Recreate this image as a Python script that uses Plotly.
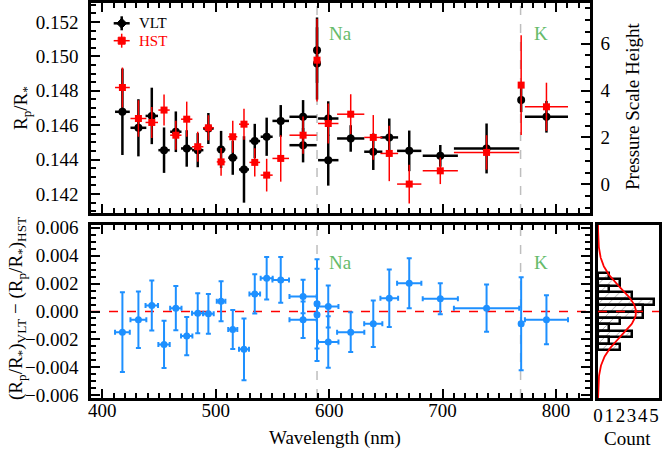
import numpy as np
import plotly.graph_objects as go

# ---------------- data ----------------
# VLT (black) : wavelength centre, half bin width, Rp/R*, error
vlt_wl = [417.7, 431.8, 443.6, 454.4, 464.8, 474.4, 484.1, 493.5, 504.7, 515.0, 524.9, 534.4, 544.9, 557.3,
          577.0, 577.0, 589.3, 589.3, 599.2, 599.2, 619.0, 638.9, 653.0, 670.6, 698.0, 738.8, 769.3, 791.6]
vlt_hw = [6.5, 7.0, 5.5, 5.0, 5.0, 5.0, 5.0, 4.7, 3.8, 4.0, 4.4, 4.7, 5.3, 7.3,
          12.0, 12.0, 1.5, 1.5, 9.0, 9.0, 12.0, 8.0, 7.8, 10.7, 15.5, 28.8, 1.5, 19.0]
vlt_rp = [0.14678, 0.14585, 0.14654, 0.14455, 0.14562, 0.14465, 0.14455, 0.14581, 0.14459, 0.14411, 0.14343,
          0.14508, 0.14533, 0.14625, 0.14649, 0.14484, 0.15036, 0.14959, 0.14639, 0.14397, 0.14523, 0.14446,
          0.14529, 0.14451, 0.14422, 0.14465, 0.14746, 0.14649]
vlt_err = [0.00251, 0.00166, 0.00164, 0.00132, 0.00118, 0.00106, 0.00099, 0.00090, 0.00108, 0.00099, 0.00193,
           0.00100, 0.00111, 0.00092, 0.00097, 0.00100, 0.00190, 0.00210, 0.00100, 0.00148, 0.00077, 0.00106,
           0.00110, 0.00118, 0.00063, 0.00145, 0.00070, 0.00092]

# HST (red)
hst_wl = [417.7, 431.8, 443.6, 454.4, 464.8, 474.4, 484.1, 493.5, 504.7, 515.0, 524.9, 534.4, 544.9, 557.3,
          577.0, 589.3, 599.2, 619.0, 638.9, 653.0, 670.6, 698.0, 738.8, 769.3, 791.6]
hst_hw = [6.5, 7.0, 5.5, 5.0, 5.0, 5.0, 5.0, 4.7, 3.8, 4.0, 4.4, 4.7, 5.3, 7.3,
          12.0, 1.5, 9.0, 12.0, 8.0, 7.8, 10.7, 15.5, 28.8, 1.5, 19.0]
hst_rp = [0.14819, 0.14639, 0.14616, 0.14688, 0.14542, 0.14635, 0.14475, 0.14585, 0.14387, 0.14533, 0.14606,
          0.14384, 0.14310, 0.14407, 0.14542, 0.14978, 0.14610, 0.14664, 0.14529, 0.14436, 0.14258, 0.14335,
          0.14442, 0.14833, 0.14707]
hst_err = [0.00116, 0.00106, 0.00090, 0.00090, 0.00084, 0.00102, 0.00087, 0.00073, 0.00081, 0.00093, 0.00090,
           0.00082, 0.00095, 0.00135, 0.00108, 0.00240, 0.00116, 0.00116, 0.00130, 0.00161, 0.00113, 0.00077,
           0.00100, 0.00290, 0.00140]

# Difference VLT - HST (blue), same bins as VLT
diff = [-0.00148, -0.00059, 0.00043, -0.00236, 0.00024, -0.00176, -0.00012, -0.00017, 0.00074, -0.00129,
        -0.00271, 0.00126, 0.00238, 0.00226, 0.00107, -0.00059, 0.00055, -0.00024, 0.00036, -0.00219,
        -0.00148, -0.00088, 0.00095, 0.00202, 0.00091, 0.00024, -0.00088, -0.00059]
diff_err = [0.00286, 0.00202, 0.00179, 0.00169, 0.00159, 0.00137, 0.00143, 0.00143, 0.00143, 0.00139,
            0.00221, 0.00141, 0.00152, 0.00164, 0.00120, 0.00131, 0.00320, 0.00330, 0.00150, 0.00185,
            0.00143, 0.00167, 0.00206, 0.00179, 0.00111, 0.00169, 0.00333, 0.00176]

# Histogram of differences
hist_centers = [0.00253, 0.00207, 0.00161, 0.00115, 0.00069, 0.00023,
                -0.00023, -0.00069, -0.00115, -0.00161, -0.00207, -0.00253]
hist_counts = [1, 2, 1, 3, 5, 4, 4, 2, 1, 3, 1, 2]
hist_binwidth = 0.00046
gauss_amp, gauss_mean, gauss_sigma = 3.4, -0.00005, 0.0017

# Lines
line_wl = [589.3, 768.8]
line_names = ["Na", "K"]
line_label_wl = [610.4, 787.2]

# Pressure scale height conversion (Rp/R* at H=0, Rp/R* per scale height)
h0_rp, h_scale = 0.14256, 0.001364

# ---------------- layout constants ----------------
W, H = 665, 449
FONT = "Liberation Serif, Times New Roman, serif"
GREEN = "rgb(102,187,106)"
BLUE = "rgb(30,144,255)"
RED = "rgb(255,0,0)"


def fx(p):
    return p / W


def fy(p):
    return 1 - p / H


x_dom = [fx(91), fx(590)]
top_dom = [fy(213), fy(3)]
bot_dom = [fy(398), fy(225)]
hist_xdom = [fx(598), fx(659)]

xr = [390, 830]
top_r = [0.1409, 0.1531]
bot_r = [-0.0062, 0.0062]
h_r = [(top_r[0] - h0_rp) / h_scale, (top_r[1] - h0_rp) / h_scale]

fig = go.Figure()

# VLT
fig.add_trace(go.Scatter(
    x=vlt_wl, y=vlt_rp, mode="markers", xaxis="x", yaxis="y",
    marker=dict(symbol="circle", size=8, color="black"),
    error_y=dict(type="data", array=vlt_err, color="black", thickness=2.5, width=0),
    error_x=dict(type="data", array=vlt_hw, color="black", thickness=2.5, width=0),
))
# HST
fig.add_trace(go.Scatter(
    x=hst_wl, y=hst_rp, mode="markers", xaxis="x", yaxis="y",
    marker=dict(symbol="square", size=7, color=RED),
    error_y=dict(type="data", array=hst_err, color=RED, thickness=1.5, width=0),
    error_x=dict(type="data", array=hst_hw, color=RED, thickness=1.5, width=0),
))
# dummy trace for the right axis
fig.add_trace(go.Scatter(x=[None], y=[None], xaxis="x", yaxis="y2", showlegend=False))

# Differences
fig.add_trace(go.Scatter(
    x=vlt_wl, y=diff, mode="markers", xaxis="x2", yaxis="y3",
    marker=dict(symbol="circle", size=7, color=BLUE),
    error_y=dict(type="data", array=diff_err, color=BLUE, thickness=2, width=2.5),
    error_x=dict(type="data", array=vlt_hw, color=BLUE, thickness=2, width=2.5),
))

# Histogram
fig.add_trace(go.Bar(
    y=hist_centers, x=hist_counts, orientation="h", width=hist_binwidth,
    xaxis="x3", yaxis="y4",
    marker=dict(color="white", line=dict(color="black", width=2.5),
                pattern=dict(shape="/", fgcolor="rgb(160,160,160)", bgcolor="white",
                             size=7, solidity=0.12, fillmode="replace")),
))
gy = np.linspace(bot_r[0], bot_r[1], 200)
gx = gauss_amp * np.exp(-0.5 * ((gy - gauss_mean) / gauss_sigma) ** 2)
fig.add_trace(go.Scatter(x=gx, y=gy, mode="lines", xaxis="x3", yaxis="y4",
                         line=dict(color=RED, width=1.8)))

tickfont = dict(family=FONT, size=19, color="black")
axis_common = dict(showgrid=False, zeroline=False, showline=True, linecolor="black", linewidth=2.5,
                   ticks="inside", tickcolor="black", tickwidth=2, ticklen=9, tickfont=tickfont,
                   automargin=False, tickangle=0)
minor_common = dict(ticks="inside", ticklen=5, tickwidth=2, tickcolor="black", showgrid=False)

fig.update_layout(
    template="none",
    width=W, height=H, margin=dict(l=0, r=0, t=0, b=0, pad=0), autosize=False,
    paper_bgcolor="white", plot_bgcolor="white", showlegend=False, bargap=0,
    xaxis=dict(domain=x_dom, anchor="y", range=xr, showticklabels=False, mirror="ticks",
               tickvals=[400, 500, 600, 700, 800],
               minor=dict(dtick=10, tick0=400, **minor_common),
               **axis_common),
    yaxis=dict(domain=top_dom, anchor="x", range=top_r, tick0=0.142, dtick=0.002, tickformat=".3f",
               mirror=True, ticklabelstandoff=6,
               minor=dict(dtick=0.0005, **minor_common),
               **axis_common),
    yaxis2=dict(overlaying="y", anchor="x", side="right", range=h_r, tick0=0, dtick=2,
                ticklabelstandoff=4,
                minor=dict(dtick=0.5, **minor_common),
                **axis_common),
    xaxis2=dict(domain=x_dom, anchor="y3", range=xr, mirror="ticks",
                tickvals=[400, 500, 600, 700, 800], ticklabelstandoff=-7,
                minor=dict(dtick=10, tick0=400, **minor_common),
                **axis_common),
    yaxis3=dict(domain=bot_dom, anchor="x2", range=bot_r, tick0=0, dtick=0.002, tickformat=".3f",
                mirror="ticks", ticklabelstandoff=6,
                minor=dict(dtick=0.0005, **minor_common),
                **axis_common),
    xaxis3=dict(domain=hist_xdom, anchor="y4", range=[0, 5.45], tickvals=[0, 1, 2, 3, 4, 5],
                showgrid=False, zeroline=False, showline=True, linecolor="black", linewidth=2.5,
                mirror=True, ticks="", tickfont=tickfont, ticklabelstandoff=-2, automargin=False,
                tickangle=0),
    yaxis4=dict(domain=bot_dom, anchor="x3", range=bot_r, showticklabels=False,
                showgrid=False, zeroline=False, showline=True, linecolor="black", linewidth=2.5,
                mirror=True, ticks="", automargin=False),
)

shapes = []
for wl in line_wl:
    shapes.append(dict(type="line", xref="x", yref="y domain", x0=wl, x1=wl, y0=0, y1=1,
                       line=dict(color="rgb(190,190,190)", width=1.5, dash="dash"), layer="below"))
    shapes.append(dict(type="line", xref="x2", yref="y3 domain", x0=wl, x1=wl, y0=0, y1=1,
                       line=dict(color="rgb(190,190,190)", width=1.5, dash="dash"), layer="below"))
shapes.append(dict(type="line", xref="x2 domain", yref="y3", x0=0, x1=1, y0=0, y1=0,
                   line=dict(color=RED, width=1.5, dash="dash"), layer="below"))
shapes.append(dict(type="line", xref="x3 domain", yref="y4", x0=0, x1=1, y0=0, y1=0,
                   line=dict(color=RED, width=1.5, dash="dash"), layer="above"))

# legend glyphs (paper coords)
lx = 121.7
for ly, col, lw, kind in [(23.3, "black", 2.5, "diamond"), (40.7, RED, 1.5, "square")]:
    shapes.append(dict(type="line", xref="paper", yref="paper", x0=fx(lx - 8), x1=fx(lx + 8),
                       y0=fy(ly), y1=fy(ly), line=dict(color=col, width=lw)))
    shapes.append(dict(type="line", xref="paper", yref="paper", x0=fx(lx), x1=fx(lx),
                       y0=fy(ly - 7), y1=fy(ly + 7), line=dict(color=col, width=lw)))
    if kind == "diamond":
        r = 5
        path = (f"M {fx(lx)},{fy(ly - r)} L {fx(lx + r)},{fy(ly)} L {fx(lx)},{fy(ly + r)} "
                f"L {fx(lx - r)},{fy(ly)} Z")
    else:
        r = 3.5
        path = (f"M {fx(lx - r)},{fy(ly - r)} L {fx(lx + r)},{fy(ly - r)} L {fx(lx + r)},{fy(ly + r)} "
                f"L {fx(lx - r)},{fy(ly + r)} Z")
    shapes.append(dict(type="path", xref="paper", yref="paper", path=path,
                       fillcolor=col, line=dict(color=col, width=1)))
fig.update_layout(shapes=shapes)


def note(x, y, text, size=19, color="black", angle=0, xref="paper", xanchor="center"):
    return dict(xref=xref, yref="paper", x=x, y=y, text=text, showarrow=False, textangle=angle,
                xanchor=xanchor, yanchor="middle", font=dict(family=FONT, size=size, color=color))


ann = [note(fx(137), fy(23.3), "VLT", size=15, xanchor="left"),
       note(fx(137), fy(40.7), "HST", size=15, color=RED, xanchor="left")]
for name, wlab in zip(line_names, line_label_wl):
    ann.append(note(wlab, fy(33), name, color=GREEN, xref="x"))
    ann.append(note(wlab, fy(262), name, color=GREEN, xref="x2"))
ann.append(note(fx(22), fy(108), "R<sub>p</sub>/R<sub>*</sub>", angle=-90))
ann.append(note(fx(17), fy(309),
                "(R<sub>p</sub>/R<sub>*</sub>)<sub>VLT</sub> \u2212 (R<sub>p</sub>/R<sub>*</sub>)<sub>HST</sub>",
                angle=-90))
ann.append(note(fx(632), fy(107), "Pressure Scale Height", angle=-90))
ann.append(note(fx(335), fy(438), "Wavelength (nm)"))
ann.append(note(fx(627), fy(438), "Count"))
fig.update_layout(annotations=ann)

fig.write_html("out.html", config={"displayModeBar": False},
               post_script="document.body.style.margin='0px';")
